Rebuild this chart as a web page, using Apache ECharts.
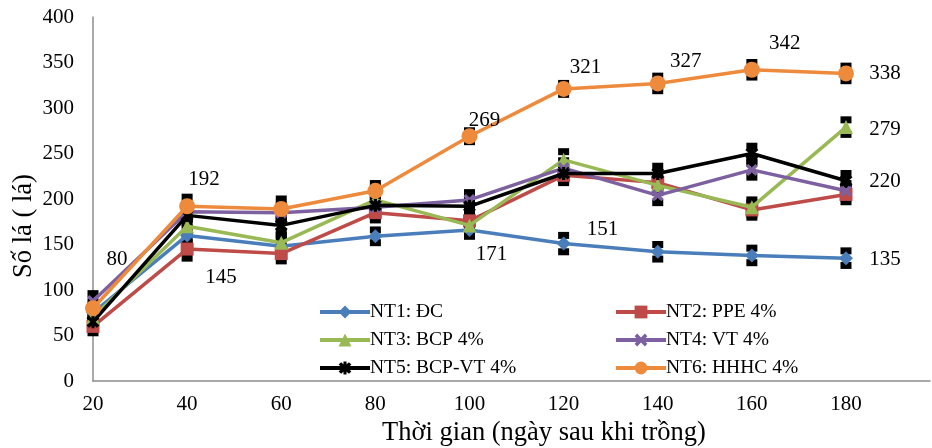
<!DOCTYPE html>
<html>
<head>
<meta charset="utf-8">
<script src="https://cdn.jsdelivr.net/npm/echarts@6/dist/echarts.min.js"></script>
<style>
html,body{margin:0;padding:0;background:#fff;}
#c{width:932px;height:448px;}
</style>
</head>
<body>
<div id="c"></div>
<script>
// ---- data ----
const xValues = [20, 40, 60, 80, 100, 120, 140, 160, 180];
const yTicks = [0, 50, 100, 150, 200, 250, 300, 350, 400];
const seriesNames = ['NT1: ĐC', 'NT2: PPE 4%', 'NT3: BCP 4%', 'NT4: VT 4%', 'NT5: BCP-VT 4%', 'NT6: HHHC 4%'];
const nt1 = [75, 160, 148, 159, 166, 151, 142, 138, 135];
const nt2 = [60, 145, 140, 185, 176, 226, 218, 188, 205];
const nt3 = [70, 170, 152, 199, 171, 243, 215, 191, 279];
const nt4 = [88, 186, 185, 191, 199, 234, 204, 232, 209];
const nt5 = [65, 182, 171, 193, 192, 228, 228, 250, 220];
const nt6 = [80, 192, 189, 209, 269, 321, 327, 342, 338];
const err1 = [8, 8, 8, 7, 7, 9, 8, 8, 8];
const err2 = [7, 10, 8, 8, 8, 8, 8, 8, 8];
const err3 = [7, 8, 8, 8, 8, 9, 8, 8, 8];
const err4 = [8, 8, 8, 8, 8, 8, 8, 8, 8];
const err5 = [8, 8, 8, 8, 8, 8, 8, 8, 8];
const err6 = [7, 10, 11, 8, 6, 6, 8, 8, 8];

// ---- styles ----
const values = [nt1, nt2, nt3, nt4, nt5, nt6];
const errors = [err1, err2, err3, err4, err5, err6];
const colors = ['#4A7EBB', '#BE4B48', '#98B954', '#7D60A0', '#000000', '#EE8A3C'];
const xPath = 'path://M2,0 L5,3 L8,0 L10,2 L7,5 L10,8 L8,10 L5,7 L2,10 L0,8 L3,5 L0,2 Z';
const starPath = 'path://M2,0 L5,3 L8,0 L10,2 L7,5 L10,8 L8,10 L5,7 L2,10 L0,8 L3,5 L0,2 Z M3.8,-0.5 L6.2,-0.5 L6.2,10.5 L3.8,10.5 Z';
const symbols = ['diamond', 'rect', 'triangle', xPath, starPath, 'circle'];
const symbolSizes = [14, 13, 14, 12, 13, 16];
// labelled points "series,point" -> label offset
const labelOffsets = {
  '5,0': [24, -49], '5,1': [17, -27], '1,1': [34, 28], '2,4': [22, 29], '5,4': [15, -16],
  '5,5': [22, -21], '0,5': [39, -14], '5,6': [28, -22], '5,7': [33, -26], '5,8': [39, 0],
  '2,8': [39, 2], '4,8': [39, 1], '0,8': [39, 1]
};
const FONT = '"Liberation Serif", "Times New Roman", serif';

const chart = echarts.init(document.getElementById('c'));
const series = [];

// error bars
values.forEach((vals, si) => {
  series.push({
    type: 'custom',
    z: 1,
    silent: true,
    data: xValues.map((x, i) => [x, vals[i], errors[si][i]]),
    renderItem: function (params, api) {
      const x = api.value(0), y = api.value(1), e = api.value(2);
      const top = api.coord([x, y + e]);
      const bot = api.coord([x, y - e]);
      const w = 11, h = 7;
      return {
        type: 'group',
        children: [
          { type: 'line', shape: { x1: top[0], y1: top[1], x2: bot[0], y2: bot[1] }, style: { stroke: '#000', lineWidth: 2 } },
          { type: 'rect', shape: { x: top[0] - w / 2, y: top[1] - h / 2, width: w, height: h }, style: { fill: '#000' } },
          { type: 'rect', shape: { x: bot[0] - w / 2, y: bot[1] - h / 2, width: w, height: h }, style: { fill: '#000' } }
        ]
      };
    }
  });
});

values.forEach((vals, si) => {
  series.push({
    name: seriesNames[si],
    type: 'line',
    z: 3 + si,
    data: xValues.map((x, i) => {
      const key = si + ',' + i;
      const item = { value: [x, vals[i]] };
      if (labelOffsets[key]) {
        item.label = {
          show: true, position: 'inside', offset: labelOffsets[key],
          formatter: String(vals[i]), color: '#000', fontSize: 21, fontFamily: FONT
        };
      }
      return item;
    }),
    symbol: symbols[si],
    symbolSize: symbolSizes[si],
    showAllSymbol: true,
    color: colors[si],
    lineStyle: { width: 3.5, color: colors[si] },
    itemStyle: { color: colors[si] },
    label: { show: false },
    emphasis: { disabled: true },
    animation: false
  });
});

const legendCommon = {
  orient: 'vertical',
  top: 302,
  padding: 0,
  itemWidth: 50,
  itemHeight: 16,
  itemGap: 8,
  lineStyle: { width: 4 },
  textStyle: { fontSize: 19.5, lineHeight: 16, fontFamily: FONT, color: '#000', padding: [0, 0, 0, -5] },
  selectedMode: false
};

chart.setOption({
  animation: false,
  backgroundColor: '#fff',
  grid: { left: 93, right: 2, top: 17, bottom: 67, containLabel: false },
  legend: [
    Object.assign({}, legendCommon, { left: 318, data: [seriesNames[0], seriesNames[2], seriesNames[4]] }),
    Object.assign({}, legendCommon, { left: 614, data: [seriesNames[1], seriesNames[3], seriesNames[5]] })
  ],
  xAxis: {
    type: 'value',
    min: xValues[0],
    max: 197.85,
    interval: 20,
    axisLine: { lineStyle: { color: '#8C8C8C', width: 1.5 } },
    axisTick: { show: false },
    splitLine: { show: false },
    axisLabel: {
      showMaxLabel: false, margin: 13, color: '#000', fontSize: 21, fontFamily: FONT,
      formatter: v => (xValues.indexOf(v) >= 0 ? String(v) : '')
    }
  },
  yAxis: {
    type: 'value',
    min: yTicks[0],
    max: yTicks[yTicks.length - 1],
    interval: 50,
    axisLine: { show: true, lineStyle: { color: '#8C8C8C', width: 1.5 } },
    axisTick: { show: false },
    splitLine: { show: false },
    axisLabel: { margin: 19, color: '#000', fontSize: 21, fontFamily: FONT }
  },
  graphic: [
    { type: 'text', x: 544, y: 433, style: { text: 'Thời gian (ngày sau khi trồng)', align: 'center', verticalAlign: 'middle', font: '26.5px ' + FONT, fill: '#000' } },
    { type: 'text', x: 24, y: 226, rotation: Math.PI / 2, style: { text: 'Số lá ( lá)', align: 'center', verticalAlign: 'middle', font: '26.5px ' + FONT, fill: '#000' } }
  ],
  series: series
});
</script>
</body>
</html>
